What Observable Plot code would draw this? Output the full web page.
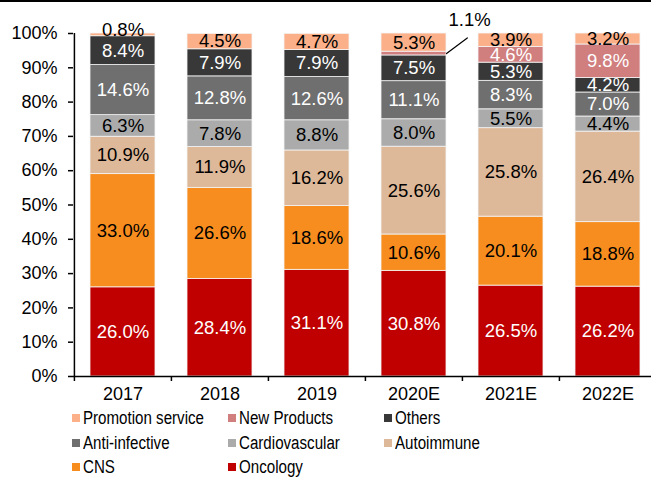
<!DOCTYPE html>
<html><head><meta charset="utf-8">
<script src="https://cdn.jsdelivr.net/npm/d3@7"></script>
<script src="https://cdn.jsdelivr.net/npm/@observablehq/plot@0.6"></script>
<style>
body{margin:0;background:#fff;color:#000;font-family:"Liberation Sans",Arial,sans-serif;}
#topbar{height:2px;background:#000;width:651px}
#chart svg{display:block}
#legend{position:relative;height:72px;width:651px;overflow:hidden}
.item{position:absolute;height:24px;display:flex;align-items:center;white-space:nowrap}
.sw{width:8px;height:8px;margin-right:3px;flex:none}
.lt{font-size:18px;display:inline-block;transform:scaleX(0.84);transform-origin:left center}
</style></head><body>
<div id="topbar"></div><div id="chart"></div><div id="legend"></div>
<script>
const years = ["2017","2018","2019","2020E","2021E","2022E"];
const categories = ["Oncology","CNS","Autoimmune","Cardiovascular","Anti-infective","Others","New Products","Promotion service"];
const oncology       = [26.0,28.4,31.1,30.8,26.5,26.2];
const cns            = [33.0,26.6,18.6,10.6,20.1,18.8];
const autoimmune     = [10.9,11.9,16.2,25.6,25.8,26.4];
const cardiovascular = [6.3,7.8,8.8,8.0,5.5,4.4];
const antiInfective  = [14.6,12.8,12.6,11.1,8.3,7.0];
const others         = [8.4,7.9,7.9,7.5,5.3,4.2];
const newProducts    = [0,0,0,1.1,4.6,9.8];
const promotion      = [0.8,4.5,4.7,5.3,3.9,3.2];
const yTicks = [0,10,20,30,40,50,60,70,80,90,100];
const colors = ["#C00000","#F78D1E","#DDB899","#ABABAB","#6F6F6F","#383838","#D07E7E","#FBB089"];
const labelColors = ["white","black","black","black","white","white","white","black"];

const series = [oncology,cns,autoimmune,cardiovascular,antiInfective,others,newProducts,promotion];
const data = [];
years.forEach((yr,i)=>{
  categories.forEach((c,j)=>{
    const v = series[j][i];
    if (v > 0) data.push({year: yr, category: c, value: v, labelColor: labelColors[j],
      special: yr === "2020E" && c === "New Products", tiny: v < 1});
  });
});

const x0 = 73, x1 = 656;
const step = (x1 - x0) / years.length;
const half = step * (1 - 0.33) / 2;
const stackOpts = {x: "year", y: "value", z: "category", order: categories};
const fmt = d => d.value.toFixed(1) + "%";
const LF = 18.5;

const chart = Plot.plot({
  width: 651, height: 403,
  marginLeft: 73, marginRight: 0, marginTop: 31, marginBottom: 29,
  style: {fontFamily: "'Liberation Sans', Arial, sans-serif", fontSize: "18px", background: "white", color: "black"},
  x: {domain: years, range: [x0, x1], paddingInner: 0.33, paddingOuter: 0.165, label: null},
  y: {domain: [0, 100], label: null},
  color: {domain: categories, range: colors},
  marks: [
    Plot.barY(data, Plot.stackY({...stackOpts, fill: "category", stroke: "#f4f4f4", strokeWidth: 0.8})),
    Plot.text(data, Plot.stackY({...stackOpts, text: d => (d.special || d.tiny) ? "" : fmt(d), fill: "labelColor", fontSize: LF})),
    Plot.text(data, Plot.stackY({...stackOpts, text: d => d.tiny ? fmt(d) : "", fill: "black", fontSize: LF, dy: -5})),
    Plot.text(data, Plot.stackY({...stackOpts, text: d => d.special ? fmt(d) : "", fill: "black", fontSize: LF, dx: half + 23, dy: -33})),
    Plot.vector(data, Plot.stackY({...stackOpts, length: 26, rotate: 53, anchor: "start", dx: half,
      stroke: "black", strokeWidth: 1.2, strokeOpacity: d => d.special ? 1 : 0,
      shape: {draw(ctx, l) { ctx.moveTo(0, 0); ctx.lineTo(0, -l); }}})),
    Plot.ruleY([0], {stroke: "black", strokeWidth: 1.5}),
    Plot.ruleX([years[0]], {dx: -step / 2, y1: 0, y2: 100, stroke: "black", strokeWidth: 1.5}),
    Plot.axisY({ticks: yTicks, tickFormat: d => d + "%", tickSize: 5, tickPadding: 11, fontSize: 18, strokeWidth: 1.5}),
    Plot.axisX({tickSize: 5, dx: -step / 2, tickFormat: () => "", strokeWidth: 1.5}),
    Plot.axisX({tickSize: 0, tickPadding: 11, fontSize: 18})
  ]
});
document.getElementById("chart").appendChild(chart);

const legendOrder = categories.slice().reverse();
const colX = [72, 228, 384];
const rowY = [1, 26, 50];
const legend = document.getElementById("legend");
legendOrder.forEach((c, k) => {
  const j = categories.indexOf(c);
  const it = document.createElement("div");
  it.className = "item";
  it.style.left = colX[k % 3] + "px";
  it.style.top = rowY[Math.floor(k / 3)] + "px";
  it.innerHTML = `<span class="sw" style="background:${colors[j]}"></span><span class="lt">${c}</span>`;
  legend.appendChild(it);
});
</script>
</body></html>
